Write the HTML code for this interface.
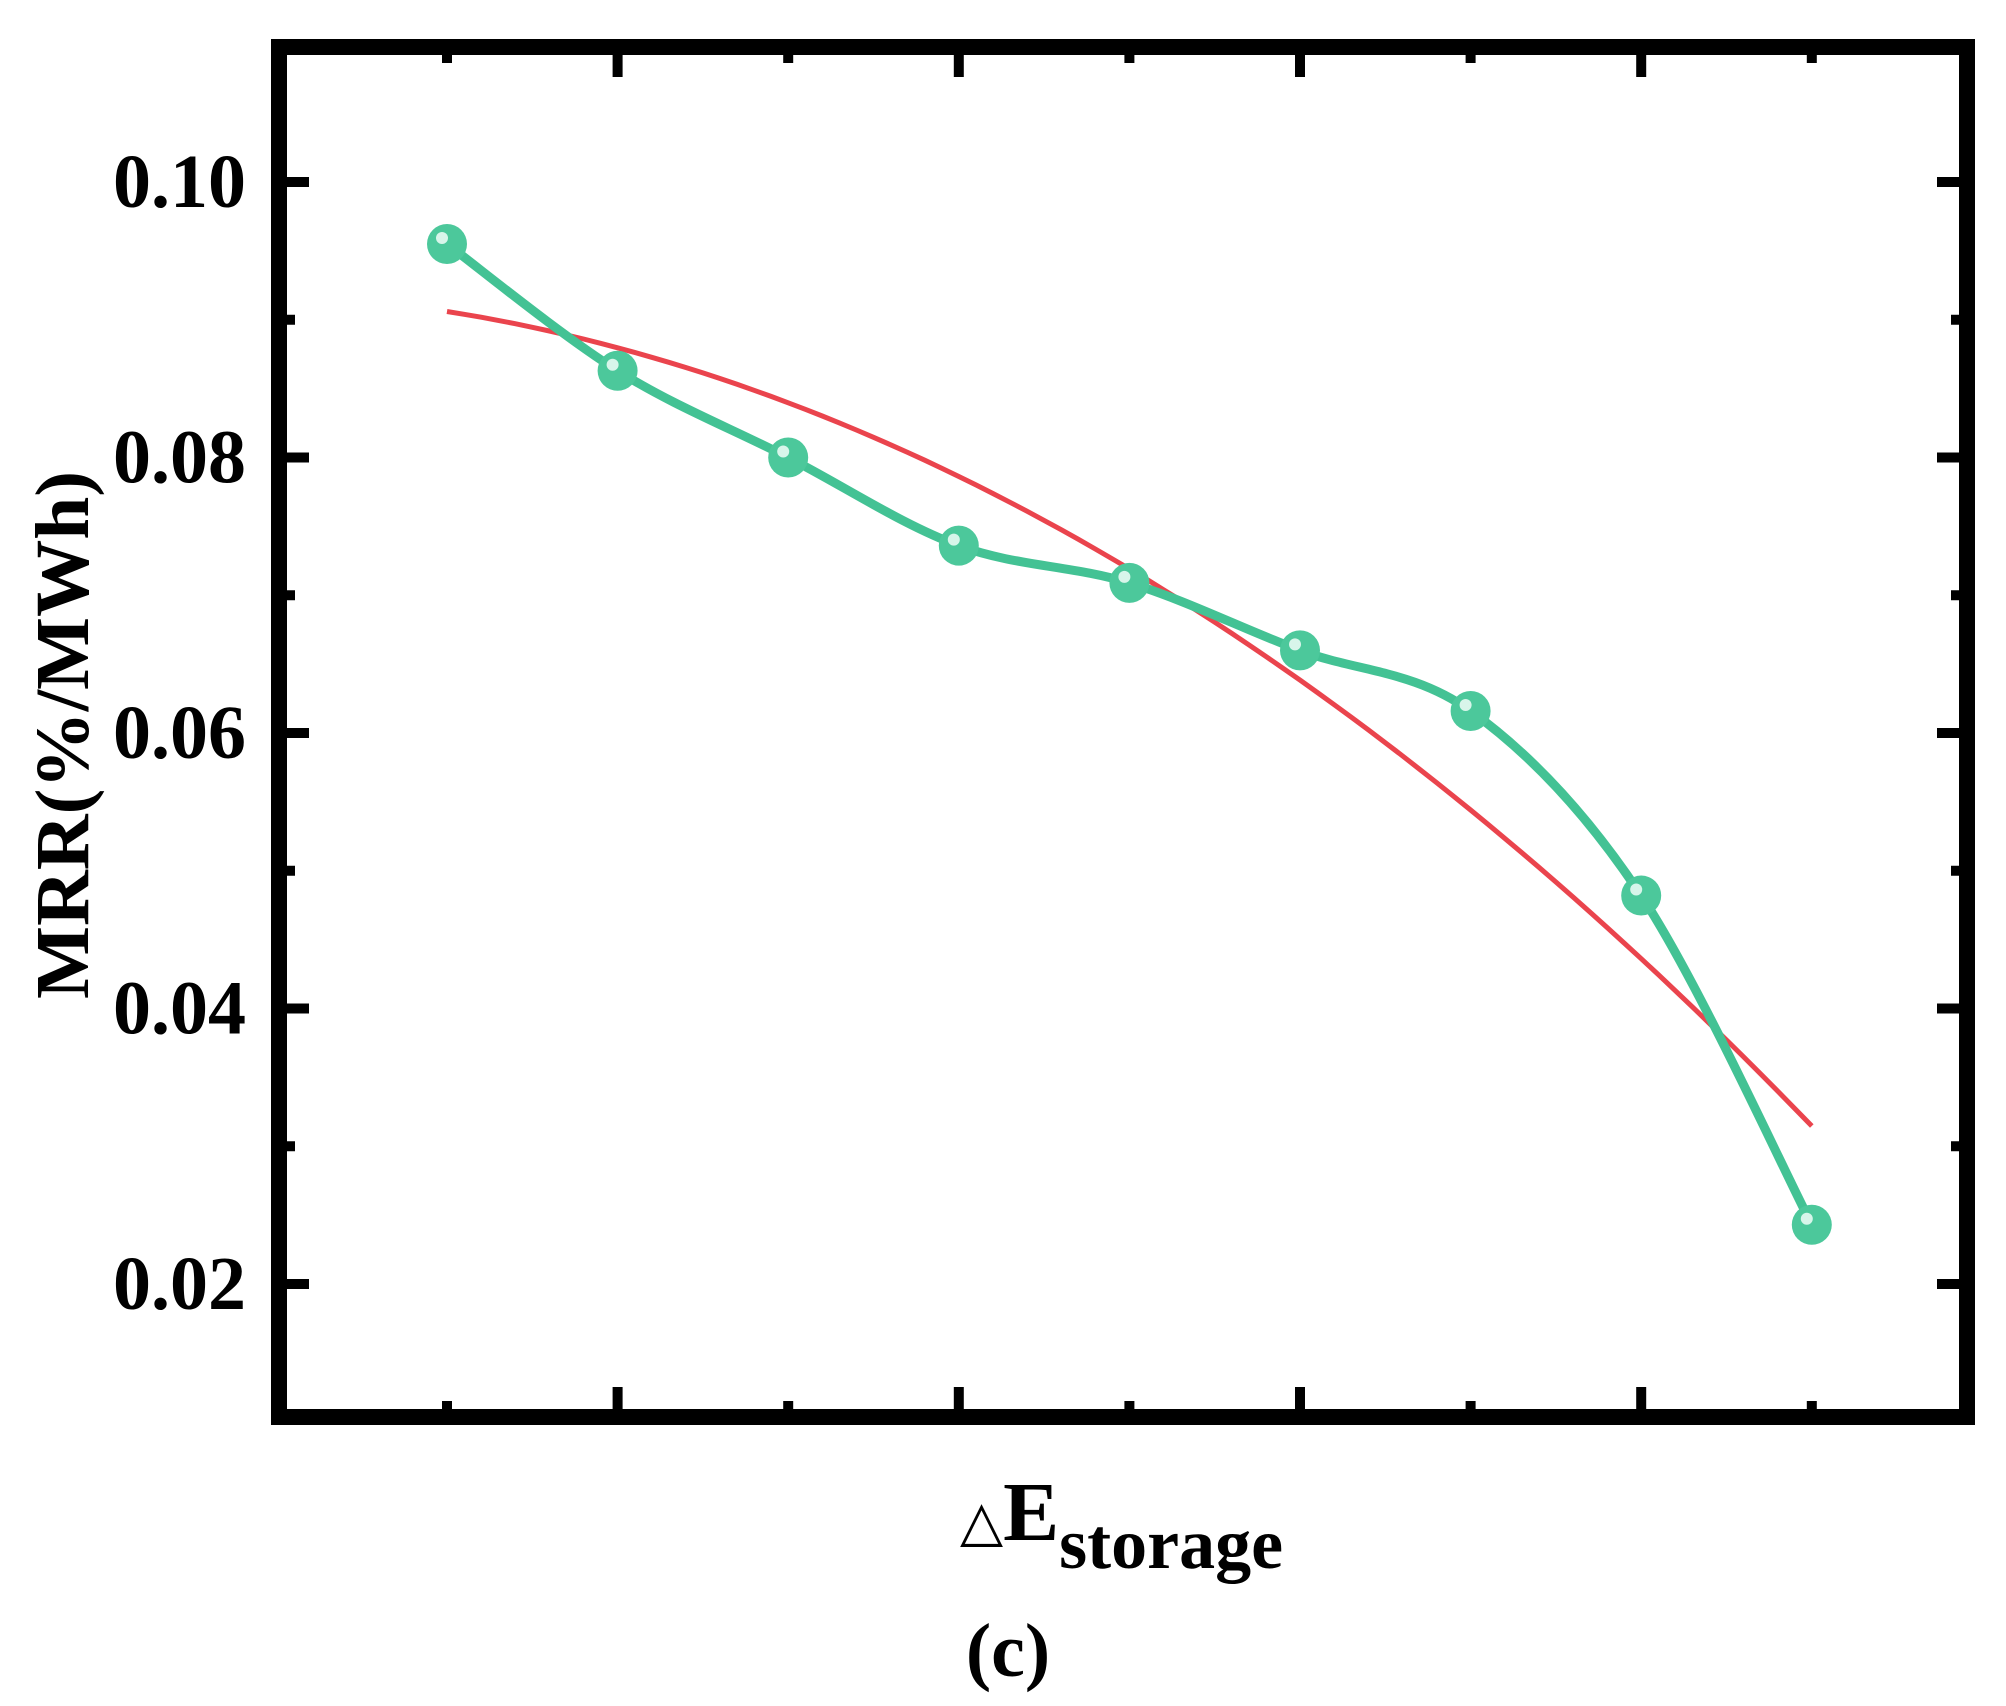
<!DOCTYPE html>
<html><head><meta charset="utf-8"><style>
html,body{margin:0;padding:0;background:#fff;}
svg{display:block;}
text{font-family:"Liberation Serif",serif;font-weight:bold;fill:#000;}
</style></head><body>
<svg id="chart" width="2006" height="1706" viewBox="0 0 2006 1706" xmlns="http://www.w3.org/2000/svg">
<g id="grid"></g>
<g id="series"></g>
<rect x="279" y="47" width="1688" height="1370" fill="none" stroke="#000" stroke-width="16"/>
<g id="axes"></g>
<text transform="translate(88,735) rotate(-90)" text-anchor="middle" font-size="76" textLength="528" lengthAdjust="spacingAndGlyphs">MRR(%/MWh)</text>
<text x="960" y="1540" font-size="84"><tspan font-weight="normal" font-family="DejaVu Sans" font-size="56">△</tspan>E<tspan dy="28" font-size="72">storage</tspan></text>
<text x="1008" y="1676" text-anchor="middle" font-size="76">(c)</text>
</svg>
<script>
const categories = [1,2,3,4,5,6,7,8,9];
const mrrValues = [0.0955,0.0863,0.0800,0.0736,0.0709,0.0660,0.0616,0.0482,0.0243];
const yTickValues = [0.02,0.04,0.06,0.08,0.10];
const yTickLabels = ["0.02","0.04","0.06","0.08","0.10"];
const yMinorValues = [0.03,0.05,0.07,0.09];

const NS="http://www.w3.org/2000/svg";
const X0=447, DX=170.6;
function xScale(i){return X0+i*DX;}
function yScale(v){return 182+(0.10-v)/0.02*275.5;}
function mk(tag,attrs,parent){const e=document.createElementNS(NS,tag);for(const k in attrs)e.setAttribute(k,attrs[k]);parent.appendChild(e);return e;}
const axes=document.getElementById('axes'), series=document.getElementById('series');
const L=287,R=1959,T=55,B=1409;

categories.forEach((c,i)=>{
  const major=i%2===1; const len=major?22:8; const x=xScale(i);
  const t=mk('line',{x1:x,x2:x,y1:B-len,y2:B+2,stroke:'#000','stroke-width':10},axes);
  
  
  const t2=mk('line',{x1:x,x2:x,y1:T-2,y2:T+len,stroke:'#000','stroke-width':10},axes);
  
  
});
yTickValues.forEach((v,i)=>{
  const y=yScale(v);
  [[L-2,L+22],[R-22,R+2]].forEach(p=>{
    const t=mk('line',{x1:p[0],x2:p[1],y1:y,y2:y,stroke:'#000','stroke-width':10},axes);
    
    
  });
  const lb=mk('text',{x:246,y:y+25,'text-anchor':'end','font-size':76},axes);
  lb.textContent=yTickLabels[i];
  
  
});
yMinorValues.forEach(v=>{
  const y=yScale(v);
  [[L-2,L+8],[R-8,R+2]].forEach(p=>{
    const t=mk('line',{x1:p[0],x2:p[1],y1:y,y2:y,stroke:'#000','stroke-width':10},axes);
    
    
  });
});

// quadratic least-squares fit
(function(){
  const n=mrrValues.length; let S=[0,0,0,0,0],Sy=[0,0,0];
  mrrValues.forEach((v,i)=>{for(let k=0;k<5;k++)S[k]+=Math.pow(i,k);for(let k=0;k<3;k++)Sy[k]+=v*Math.pow(i,k);});
  const M=[[S[0],S[1],S[2],Sy[0]],[S[1],S[2],S[3],Sy[1]],[S[2],S[3],S[4],Sy[2]]];
  for(let i=0;i<3;i++){for(let j=i+1;j<3;j++){const f=M[j][i]/M[i][i];for(let k=i;k<4;k++)M[j][k]-=f*M[i][k];}}
  const c=[0,0,0];for(let i=2;i>=0;i--){let s=M[i][3];for(let k=i+1;k<3;k++)s-=M[i][k]*c[k];c[i]=s/M[i][i];}
  let d='';for(let s=0;s<=80;s++){const t=s/10*(n-1)/8;const v=c[0]+c[1]*t+c[2]*t*t;d+=(s?'L':'M')+xScale(t).toFixed(1)+','+yScale(v).toFixed(1);}
  const p=mk('path',{d:d,fill:'none',stroke:'#e8303a','stroke-width':5,'stroke-opacity':0.9},series);
  
  
})();

// smooth green line (Catmull-Rom)
(function(){
  const pts=mrrValues.map((v,i)=>[xScale(i),yScale(v)]);
  let d='M'+pts[0][0]+','+pts[0][1];
  for(let i=0;i<pts.length-1;i++){
    const p0=pts[i-1]||pts[i],p1=pts[i],p2=pts[i+1],p3=pts[i+2]||pts[i+1];
    const c1=[p1[0]+(p2[0]-p0[0])/6,p1[1]+(p2[1]-p0[1])/6];
    const c2=[p2[0]-(p3[0]-p1[0])/6,p2[1]-(p3[1]-p1[1])/6];
    d+='C'+c1+' '+c2+' '+p2;
  }
  const p=mk('path',{d:d,fill:'none',stroke:'#43c294','stroke-width':9},series);
  
  
  pts.forEach(q=>{
    const c=mk('circle',{cx:q[0],cy:q[1],r:20,fill:'#4cc89b'},series);
    
    
    const h=mk('circle',{cx:q[0]-5,cy:q[1]-6,r:6,fill:'#d8f5ea'},series);
    
    
  });
})();
</script>
</body></html>
